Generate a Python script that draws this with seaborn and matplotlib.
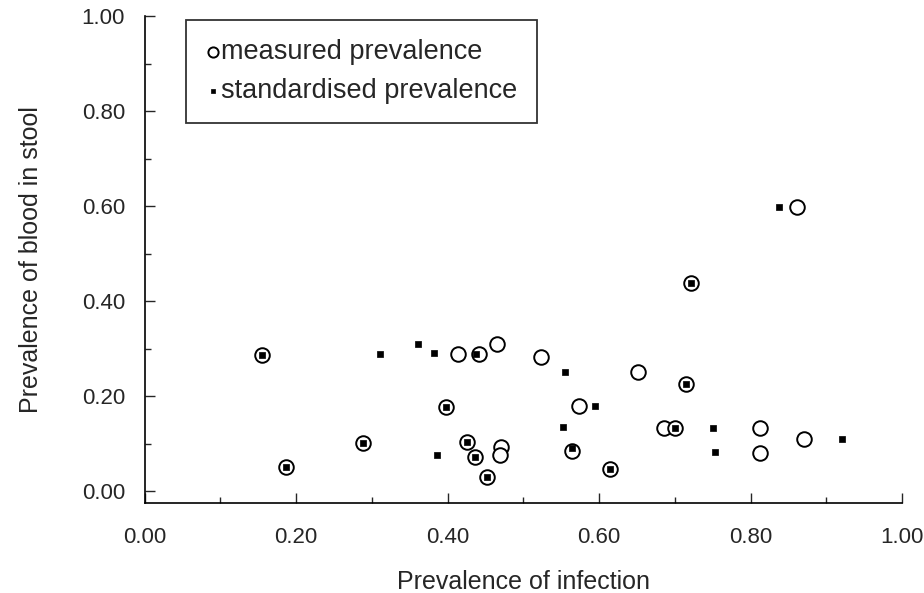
import matplotlib
matplotlib.use("Agg")
import matplotlib.pyplot as plt
import seaborn as sns
import numpy as np
import pandas as pd
from matplotlib.ticker import MultipleLocator, FormatStrFormatter

# measured prevalence (open circles)
measured_x = [0.155, 0.414, 0.442, 0.465, 0.398, 0.289, 0.187, 0.426, 0.436, 0.452,
              0.471, 0.469, 0.524, 0.651, 0.715, 0.573, 0.686, 0.700, 0.812, 0.870,
              0.565, 0.812, 0.615, 0.861, 0.721]
measured_y = [0.287, 0.289, 0.289, 0.310, 0.176, 0.101, 0.051, 0.104, 0.072, 0.030,
              0.093, 0.076, 0.283, 0.250, 0.226, 0.179, 0.132, 0.132, 0.132, 0.109,
              0.085, 0.081, 0.046, 0.599, 0.438]

# standardised prevalence (small filled dots)
std_x = [0.155, 0.311, 0.361, 0.382, 0.437, 0.398, 0.289, 0.187, 0.426, 0.386,
         0.436, 0.452, 0.555, 0.715, 0.595, 0.552, 0.700, 0.750, 0.921, 0.565,
         0.753, 0.615, 0.838, 0.721]
std_y = [0.287, 0.289, 0.310, 0.291, 0.289, 0.176, 0.101, 0.051, 0.104, 0.076,
         0.072, 0.030, 0.250, 0.226, 0.179, 0.134, 0.132, 0.132, 0.109, 0.090,
         0.083, 0.046, 0.599, 0.438]

df_meas = pd.DataFrame({"x": measured_x, "y": measured_y})
df_std = pd.DataFrame({"x": std_x, "y": std_y})

sns.set_style("ticks")
plt.rcParams['font.family'] = ['Liberation Sans', 'DejaVu Sans']

fig = plt.figure(figsize=(9.24, 5.93), dpi=100)
ax = fig.add_axes([0.1564, 0.1518, 0.8198, 0.8212])

sns.scatterplot(data=df_meas, x="x", y="y", ax=ax, marker="o", s=110,
                facecolor="white", edgecolor="black", linewidth=1.4,
                label="measured prevalence", zorder=3)
sns.scatterplot(data=df_std, x="x", y="y", ax=ax, marker="s", s=22,
                color="black", edgecolor="black", linewidth=0.5,
                label="standardised prevalence", zorder=4)

ax.set_xlim(0.0, 1.0)
ax.set_ylim(-0.025, 1.0)
ax.xaxis.set_major_locator(MultipleLocator(0.2))
ax.xaxis.set_minor_locator(MultipleLocator(0.1))
ax.yaxis.set_major_locator(MultipleLocator(0.2))
ax.yaxis.set_minor_locator(MultipleLocator(0.1))
ax.xaxis.set_major_formatter(FormatStrFormatter("%.2f"))
ax.yaxis.set_major_formatter(FormatStrFormatter("%.2f"))
ax.tick_params(which="major", direction="in", length=7, width=1, labelsize=16)
ax.tick_params(which="minor", direction="in", length=4, width=1)
ax.tick_params(axis="x", pad=17)
ax.tick_params(axis="y", pad=14)
for s in ["top", "right"]:
    ax.spines[s].set_visible(False)
for s in ["left", "bottom"]:
    ax.spines[s].set_linewidth(1.2)
    ax.spines[s].set_color("black")

ax.set_xlabel("Prevalence of infection", fontsize=18, labelpad=16)
ax.set_ylabel("Prevalence of blood in stool", fontsize=18, labelpad=28)

leg = ax.legend(loc="upper left", bbox_to_anchor=(0.055, 0.992), fontsize=19.5,
                frameon=True, fancybox=False, edgecolor="black",
                handletextpad=0.05, borderpad=0.7, labelspacing=0.5,
                markerscale=0.7, handlelength=0.55, borderaxespad=0.0)
leg.get_frame().set_linewidth(1.3)

plt.savefig("out.png", dpi=100)
